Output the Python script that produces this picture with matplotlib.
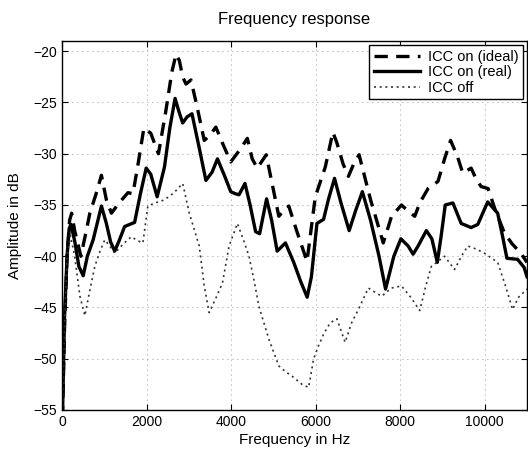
import matplotlib

matplotlib.use("Agg")
import matplotlib.pyplot as plt

# frequency (Hz) / amplitude (dB) points
f_ideal = [0, 60, 120, 180, 228, 300, 447, 550, 659, 800, 933, 1050, 1169, 1350, 1561,
           1678, 1800, 1937, 2100, 2282, 2450, 2600, 2698, 2776, 2855, 2933, 3051, 3200,
           3365, 3500, 3639, 3800, 3992, 4227, 4384, 4500, 4620, 4831, 4950, 5129, 5250,
           5365, 5550, 5796, 5992, 6228, 6408, 6500, 6650, 6776, 6900, 7028, 7300, 7600,
           7796, 8031, 8188, 8345, 8463, 8659, 8894, 9050, 9192, 9350, 9482, 9678, 9800,
           9914, 10080, 10250, 10463, 10650, 10855, 11000]
a_ideal = [-58, -47, -40, -36.5, -35.8, -37.5, -40.0, -38.0, -35.8, -34.0, -32.1, -34.5,
           -35.8, -34.8, -33.8, -33.9, -31.0, -27.5, -28.0, -30.0, -26.0, -22.0, -20.3,
           -20.9, -22.5, -23.2, -22.8, -25.5, -28.7, -28.2, -27.4, -29.0, -30.8, -29.5,
           -28.5, -30.5, -31.4, -30.1, -32.5, -36.1, -35.5, -35.1, -37.5, -40.5, -34.2,
           -31.3, -27.9, -28.9, -31.0, -32.2, -31.0, -30.1, -34.5, -38.7, -36.1, -35.0,
           -35.6, -36.1, -34.8, -33.4, -32.7, -30.5, -28.7, -30.2, -31.9, -31.4, -32.5,
           -33.2, -33.4, -35.5, -37.7, -38.8, -39.7, -40.6]

f_real = [0, 60, 120, 170, 212, 300, 400, 502, 600, 737, 850, 933, 1050, 1150, 1247,
          1350, 1482, 1718, 1850, 1992, 2100, 2251, 2424, 2550, 2675, 2760, 2855, 2960,
          3075, 3250, 3404, 3550, 3678, 3850, 3992, 4100, 4188, 4329, 4450, 4580, 4675,
          4840, 4960, 5090, 5286, 5482, 5650, 5800, 5900, 6031, 6188, 6300, 6447, 6600,
          6793, 6950, 7106, 7300, 7500, 7654, 7850, 8016, 8188, 8306, 8424, 8619, 8750,
          8878, 8970, 9066, 9247, 9443, 9678, 9835, 10071, 10306, 10420, 10525, 10776,
          10933, 11000]
a_real = [-58, -46, -40, -37.3, -36.9, -38.5, -41.0, -41.9, -40.0, -38.4, -36.5, -35.1,
          -36.8, -38.6, -39.5, -38.5, -37.1, -36.7, -34.0, -31.4, -32.0, -34.2, -31.3,
          -27.5, -24.6, -25.8, -27.0, -26.4, -26.1, -29.5, -32.6, -31.8, -30.5, -32.2,
          -33.7, -33.9, -34.0, -32.9, -35.0, -37.6, -37.8, -34.4, -36.5, -39.5, -38.7,
          -40.6, -42.5, -44.0, -42.0, -36.8, -36.4, -34.5, -32.4, -34.8, -37.5, -35.5,
          -33.7, -36.5, -40.0, -43.2, -40.0, -38.3, -39.0, -39.8, -39.0, -37.5, -38.3,
          -40.6, -38.0, -35.0, -34.8, -36.8, -37.2, -36.9, -34.7, -35.8, -38.0, -40.2,
          -40.3, -41.1, -42.0]

f_off = [0, 60, 120, 200, 300, 424, 541, 650, 776, 900, 1012, 1130, 1247, 1450, 1639,
         1800, 1914, 2031, 2200, 2424, 2650, 2855, 3012, 3247, 3365, 3482, 3650, 3796,
         3953, 4149, 4300, 4424, 4550, 4659, 4894, 5129, 5300, 5443, 5678, 5835, 5953,
         6071, 6200, 6345, 6502, 6698, 6850, 7012, 7247, 7400, 7561, 7796, 8031, 8250,
         8463, 8600, 8737, 9051, 9286, 9450, 9600, 9800, 9992, 10306, 10500, 10659,
         10800, 11000]
a_off = [-58, -47, -40, -38.0, -40.0, -43.9, -45.8, -43.5, -41.0, -39.5, -38.4, -39.0,
         -39.7, -38.8, -38.1, -38.5, -38.7, -35.1, -34.8, -34.5, -33.8, -32.9, -35.8,
         -39.0, -42.9, -45.5, -44.0, -42.6, -39.0, -36.8, -38.5, -40.0, -42.5, -44.9,
         -48.1, -50.7, -51.3, -51.7, -52.5, -52.8, -50.0, -48.7, -47.5, -46.5, -46.1,
         -48.4, -46.5, -45.2, -43.1, -43.5, -43.9, -43.1, -42.9, -44.0, -45.3, -43.0,
         -41.0, -40.0, -41.3, -40.0, -39.0, -39.3, -39.7, -40.6, -43.0, -45.2, -44.0,
         -43.2]

plt.rcParams["font.family"] = ["Liberation Sans", "DejaVu Sans"]

fig = plt.figure(figsize=(5.28, 4.5), dpi=100)
ax = fig.add_axes([0.1174, 0.0889, 0.8807, 0.82])

ax.plot(f_ideal, a_ideal, color="black", linestyle=(0, (4, 2.5)), linewidth=2.4,
        label="ICC on (ideal)")
ax.plot(f_real, a_real, color="black", linestyle="-", linewidth=2.4,
        label="ICC on (real)")
ax.plot(f_off, a_off, color="#333333", linestyle=(0, (1.2, 2.2)), linewidth=1.2,
        label="ICC off")

ax.set_xlim(0, 11000)
ax.set_ylim(-55, -19)
ax.set_xticks([0, 2000, 4000, 6000, 8000, 10000])
ax.set_yticks([-55, -50, -45, -40, -35, -30, -25, -20])
ax.grid(True, color="black", linestyle=(0, (1, 5)), linewidth=0.6, alpha=0.55)
ax.tick_params(direction="in", length=4, labelsize=10, top=True, right=True)
for sp in ax.spines.values():
    sp.set_linewidth(1.0)

ax.set_title("Frequency response", fontsize=12, pad=12)
ax.set_xlabel("Frequency in Hz", fontsize=11, labelpad=3)
ax.set_ylabel("Amplitude in dB", fontsize=11, labelpad=8)

leg = ax.legend(loc="upper right", fontsize=10.5, handlelength=3.2, fancybox=False,
                framealpha=1, edgecolor="black", borderpad=0.3, labelspacing=0.1,
                handletextpad=0.5, borderaxespad=0.3)
leg.get_frame().set_linewidth(1.0)

fig.savefig("out.png", dpi=100)
